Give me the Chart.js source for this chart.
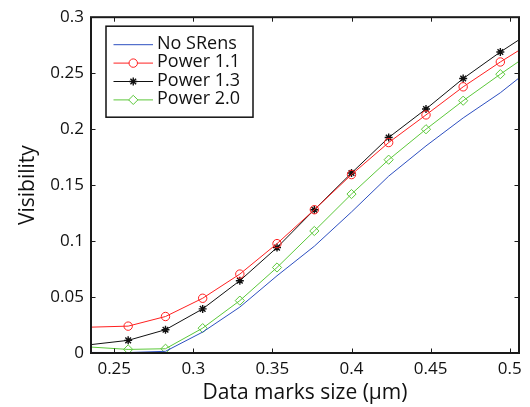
<!DOCTYPE html>
<html>
<head>
<meta charset="utf-8">
<script src="https://cdn.jsdelivr.net/npm/chart.js@4/dist/chart.umd.min.js"></script>
<style>
  html, body { margin: 0; padding: 0; background: #fff; }
  #wrap { width: 530px; height: 407px; }
</style>
</head>
<body>
<div id="wrap"><canvas id="c" width="530" height="407"></canvas></div>
<script>
// ---- data ----
const xValues   = [0.2353, 0.2588, 0.2824, 0.3059, 0.3294, 0.3529, 0.3765, 0.4000, 0.4235, 0.4471, 0.4706, 0.4941, 0.5059];
const noSRens   = [0.0005, 0.0004, 0.0015, 0.0187, 0.0410, 0.0690, 0.0954, 0.1260, 0.1580, 0.1850, 0.2100, 0.2325, 0.2457];
const power11   = [0.0231, 0.0240, 0.0326, 0.0489, 0.0705, 0.0977, 0.1280, 0.1594, 0.1880, 0.2127, 0.2378, 0.2600, 0.2704];
const power13   = [0.0075, 0.0113, 0.0208, 0.0394, 0.0646, 0.0942, 0.1280, 0.1608, 0.1925, 0.2180, 0.2452, 0.2689, 0.2798];
const power20   = [0.0053, 0.0032, 0.0038, 0.0222, 0.0468, 0.0764, 0.1090, 0.1420, 0.1727, 0.1999, 0.2254, 0.2491, 0.2606];
const seriesNames = ["No SRens", "Power 1.1", "Power 1.3", "Power 2.0"];
const xTicks = [0.25, 0.3, 0.35, 0.4, 0.45, 0.5];
const yTicks = [0, 0.05, 0.1, 0.15, 0.2, 0.25, 0.3];
const xMin = 0.2353, xMax = 0.5059, yMin = 0, yMax = 0.3;
const xTitle = "Data marks size (\u03bcm)";
const yTitle = "Visibility";

const FONT = "'Open Sans', 'Noto Sans', sans-serif";
const pts = arr => arr.map((v, i) => ({x: xValues[i], y: v}));
const edgeHidden = r => (ctx => (ctx.dataIndex === 0 || ctx.dataIndex === xValues.length - 1) ? 0 : r);

const datasets = [
  {label: seriesNames[0], data: pts(noSRens), borderColor: '#2d4fc0', backgroundColor: 'rgba(0,0,0,0)', borderWidth: 1, pointRadius: 0, pointStyle: false},
  {label: seriesNames[1], data: pts(power11), borderColor: '#ff2020', backgroundColor: 'rgba(0,0,0,0)', borderWidth: 1, pointRadius: edgeHidden(4.2), pointStyle: 'circle', pointBorderWidth: 1},
  {label: seriesNames[2], data: pts(power13), borderColor: '#111111', backgroundColor: 'rgba(0,0,0,0)', borderWidth: 1, pointRadius: edgeHidden(4), pointStyle: 'star', pointBorderWidth: 1.4},
  {label: seriesNames[3], data: pts(power20), borderColor: '#5cc83a', backgroundColor: 'rgba(0,0,0,0)', borderWidth: 1, pointRadius: edgeHidden(4.6), pointStyle: 'rectRot', pointBorderWidth: 1}
];

// inward ticks + frame
const framePlugin = {
  id: 'frame',
  afterDatasetsDraw(chart) {
    const {ctx, chartArea: a, scales: {x, y}} = chart;
    ctx.save();
    ctx.strokeStyle = '#1a1a1a';
    ctx.lineWidth = 1;
    const tl = 4.5;
    ctx.beginPath();
    x.ticks.forEach(t => {
      const px = Math.round(x.getPixelForValue(t.value)) + 0.5;
      ctx.moveTo(px, a.bottom); ctx.lineTo(px, a.bottom - tl);
      ctx.moveTo(px, a.top); ctx.lineTo(px, a.top + tl);
    });
    y.ticks.forEach(t => {
      const py = Math.round(y.getPixelForValue(t.value)) + 0.5;
      ctx.moveTo(a.left, py); ctx.lineTo(a.left + tl, py);
      ctx.moveTo(a.right, py); ctx.lineTo(a.right - tl, py);
    });
    ctx.stroke();
    ctx.lineWidth = 2;
    ctx.strokeRect(a.left, a.top, a.right - a.left, a.bottom - a.top);
    ctx.restore();
  }
};

// legend box inside the plot area
const legendPlugin = {
  id: 'boxLegend',
  afterDraw(chart) {
    const {ctx, chartArea: a} = chart;
    const bx = a.left + 15, by = a.top + 9, bw = 147, bh = 91;
    ctx.save();
    ctx.fillStyle = '#fff';
    ctx.fillRect(bx, by, bw, bh);
    ctx.strokeStyle = '#111';
    ctx.lineWidth = 1.5;
    ctx.strokeRect(bx, by, bw, bh);
    ctx.font = "18px " + FONT;
    ctx.textBaseline = 'middle';
    ctx.textAlign = 'left';
    chart.data.datasets.forEach((ds, i) => {
      const cy = by + 18.5 + i * 18.4;
      const x0 = bx + 7.5, x1 = bx + 47;
      ctx.strokeStyle = ds.borderColor;
      ctx.lineWidth = 1;
      ctx.beginPath(); ctx.moveTo(x0, cy); ctx.lineTo(x1, cy); ctx.stroke();
      if (ds.pointStyle) {
        const r = ds.pointStyle === 'rectRot' ? 4.6 : (ds.pointStyle === 'star' ? 4 : 4.2);
        ctx.lineWidth = ds.pointBorderWidth;
        ctx.fillStyle = '#ffffff';
        ctx.strokeStyle = ds.borderColor;
        Chart.helpers.drawPoint(ctx, {pointStyle: ds.pointStyle, radius: r, borderWidth: ds.pointBorderWidth}, (x0 + x1) / 2, cy);
      }
      ctx.fillStyle = '#111';
      ctx.fillText(ds.label, bx + 51, cy - 1);
    });
    ctx.restore();
  }
};

new Chart(document.getElementById('c'), {
  type: 'line',
  data: {datasets},
  plugins: [framePlugin, legendPlugin],
  options: {
    responsive: false,
    animation: false,
    devicePixelRatio: 1,
    layout: {padding: {top: 15, right: 11, left: 0, bottom: 0}},
    plugins: {legend: {display: false}, tooltip: {enabled: false}},
    elements: {line: {tension: 0}},
    scales: {
      x: {
        type: 'linear', min: xMin, max: xMax,
        grid: {display: false, drawTicks: false},
        border: {display: false},
        afterBuildTicks: s => { s.ticks = xTicks.map(v => ({value: v})); },
        afterFit: s => { s.height = 54; },
        ticks: {color: '#111', padding: 6, font: {family: FONT, size: 17}, callback: v => String(parseFloat(v.toFixed(2)))},
        title: {display: true, text: xTitle, color: '#111', font: {family: FONT, size: 21}, padding: {top: 0, bottom: 1}}
      },
      y: {
        type: 'linear', min: yMin, max: yMax,
        grid: {display: false, drawTicks: false},
        border: {display: false},
        afterBuildTicks: s => { s.ticks = yTicks.map(v => ({value: v})); },
        afterFit: s => { s.width = 91; },
        ticks: {color: '#111', padding: 7, font: {family: FONT, size: 17}, callback: v => String(parseFloat(v.toFixed(2)))},
        title: {display: true, text: yTitle, color: '#111', font: {family: FONT, size: 21}, padding: {top: 15, bottom: 0}}
      }
    }
  }
});
</script>
</body>
</html>
